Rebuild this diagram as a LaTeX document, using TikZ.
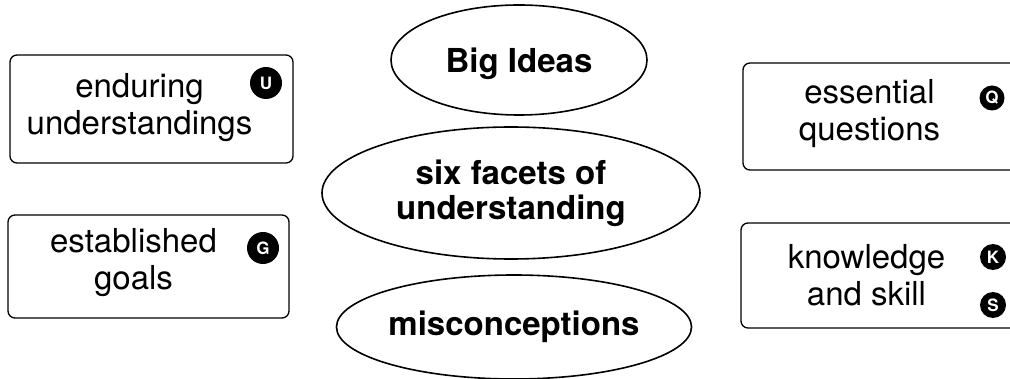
\documentclass[tikz,border=0pt]{standalone}
\usepackage{fontspec}
\setmainfont{TeX Gyre Heros}
\usetikzlibrary{shapes.geometric}

\begin{document}
\begin{tikzpicture}[x=1pt,y=-1pt,
    card/.style={draw,line width=1.3pt,rounded corners=7pt,inner sep=0pt},
    cardtext/.style={align=center,font=\fontsize{33}{37}\selectfont},
    idea/.style={draw,ellipse,line width=1.6pt,inner sep=0pt,align=center,
        font=\fontsize{33}{36}\selectfont\bfseries},
    badge/.style={circle,fill=black,text=white,inner sep=0pt,
        font=\fontsize{17}{17}\selectfont\bfseries}]
    \useasboundingbox (0,0) rectangle (1010,379);
    \clip (0,0) rectangle (1010,379);
    % left column
    \node[card,minimum width=283pt,minimum height=108pt] (eu) at (151.5,109) {};
    \node[cardtext] at ([xshift=-12pt,yshift=1pt]eu.center) {enduring\\understandings};
    \node[badge,minimum size=32pt] (bu) at (266,83) {U};
    \node[card,minimum width=281pt,minimum height=103pt] (eg) at (148.5,266.5) {};
    \node[cardtext] at ([xshift=-15pt,yshift=4pt]eg.center) {established\\goals};
    \node[badge,minimum size=32pt] (bg) at (263,248) {G};
    % middle column
    \node[idea,minimum width=256pt,minimum height=110pt,text depth=0pt] (bi) at (519,60) {Big Ideas};
    \node[idea,minimum width=378pt,minimum height=132pt] (sf) at (511,193) {six facets of\\[-1pt]understanding};
    \node[idea,minimum width=346pt,minimum height=104pt] (mc) at (514,327) {misconceptions};
    % right column, runs off the edge
    \node[card,minimum width=287pt,minimum height=107pt] (eq) at (886.5,116.5) {};
    \node[cardtext] at ([xshift=-17pt,yshift=3pt]eq.center) {essential\\questions};
    \node[badge,minimum size=25pt] (bq) at (992,98) {Q};
    \node[card,minimum width=289pt,minimum height=105pt] (ks) at (885.5,275.5) {};
    \node[cardtext] at ([xshift=-19pt,yshift=0pt]ks.center) {knowledge\\and skill};
    \node[badge,minimum size=26pt] (bk) at (993,257) {K};
    \node[badge,minimum size=26pt] (bs) at (993,305) {S};
\end{tikzpicture}
\end{document}
